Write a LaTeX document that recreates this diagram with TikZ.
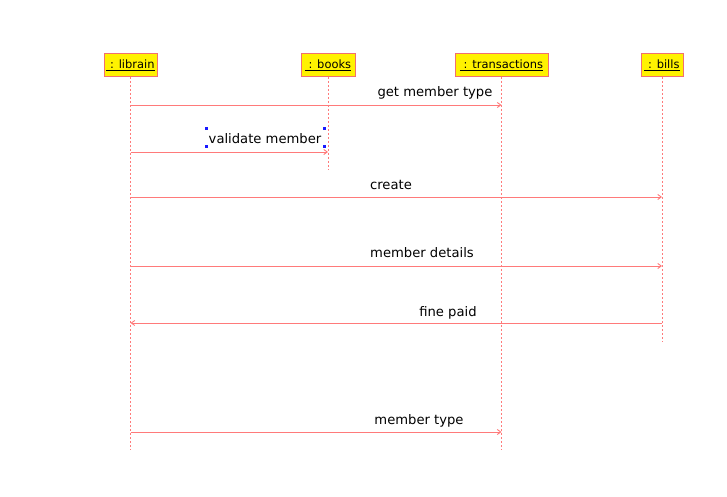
\documentclass[tikz,border=0pt]{standalone}
\usepackage{fontspec}
\setmainfont{DejaVu Sans}
\usetikzlibrary{arrows.meta}
\definecolor{lred}{HTML}{FF7A7A}
\definecolor{bred}{HTML}{F07070}
\definecolor{hblue}{HTML}{1A1AFF}
\begin{document}
\begin{tikzpicture}[x=1bp,y=-1bp,
  head/.style={draw=bred,line width=1bp,fill=yellow,minimum height=23bp,inner sep=0pt,
    font=\fontsize{11.5}{13}\selectfont},
  life/.style={draw=lred,line width=0.9bp,dash pattern=on 2bp off 2bp},
  msg/.style={draw=lred,line width=0.9bp,-{Straight Barb[length=3.5bp,width=5bp]}},
  lbl/.style={font=\fontsize{13.2}{15}\selectfont,inner sep=0pt,anchor=base},
  handle/.style={fill=hblue,minimum size=3bp,inner sep=0pt}]
\useasboundingbox (0,0) rectangle (727,497);
% heads
\node[head,minimum width=53bp] (lib) at (130.5,65) {\underline{\ : librain}};
\node[head,minimum width=54bp] (bk) at (328,65) {\underline{\ : books}};
\node[head,minimum width=93bp] (tr) at (501.5,65) {\underline{\ : transactions}};
\node[head,minimum width=42bp] (bl) at (662,65) {\underline{\ : bills}};
% lifeline ends
\coordinate (libE) at (130.5,450);
\coordinate (bkE) at (328,170);
\coordinate (trE) at (501.5,450);
\coordinate (blE) at (662,342);
\draw[life] (lib.south) -- (libE);
\draw[life] (bk.south) -- (bkE);
\draw[life] (tr.south) -- (trE);
\draw[life] (bl.south) -- (blE);
% message ends
\coordinate (m1a) at (130.5,105); \coordinate (m1b) at (501.5,105);
\coordinate (m2a) at (130.5,152); \coordinate (m2b) at (328,152);
\coordinate (m3a) at (130.5,197); \coordinate (m3b) at (662,197);
\coordinate (m4a) at (130.5,266); \coordinate (m4b) at (662,266);
\coordinate (m5a) at (662,323); \coordinate (m5b) at (130.5,323);
\coordinate (m6a) at (130.5,432); \coordinate (m6b) at (501.5,432);
\draw[msg] (m1a) -- (m1b);
\draw[msg] (m2a) -- (m2b);
\draw[msg] (m3a) -- (m3b);
\draw[msg] (m4a) -- (m4b);
\draw[msg] (m5a) -- (m5b);
\draw[msg] (m6a) -- (m6b);
% labels
\node[lbl] (l1) at (435,97) {get member type};
\node[lbl] (l2) at (265,144) {validate member};
\node[lbl] (l3) at (391,190) {create};
\node[lbl] (l4) at (422,258) {member details};
\node[lbl] (l5) at (448,316) {fine paid};
\node[lbl] (l6) at (419,424) {member type};
% selection handles
\node[handle] (h1) at (206,129) {};
\node[handle] (h2) at (324,129) {};
\node[handle] (h3) at (206,147) {};
\node[handle] (h4) at (324,147) {};
\end{tikzpicture}
\end{document}
